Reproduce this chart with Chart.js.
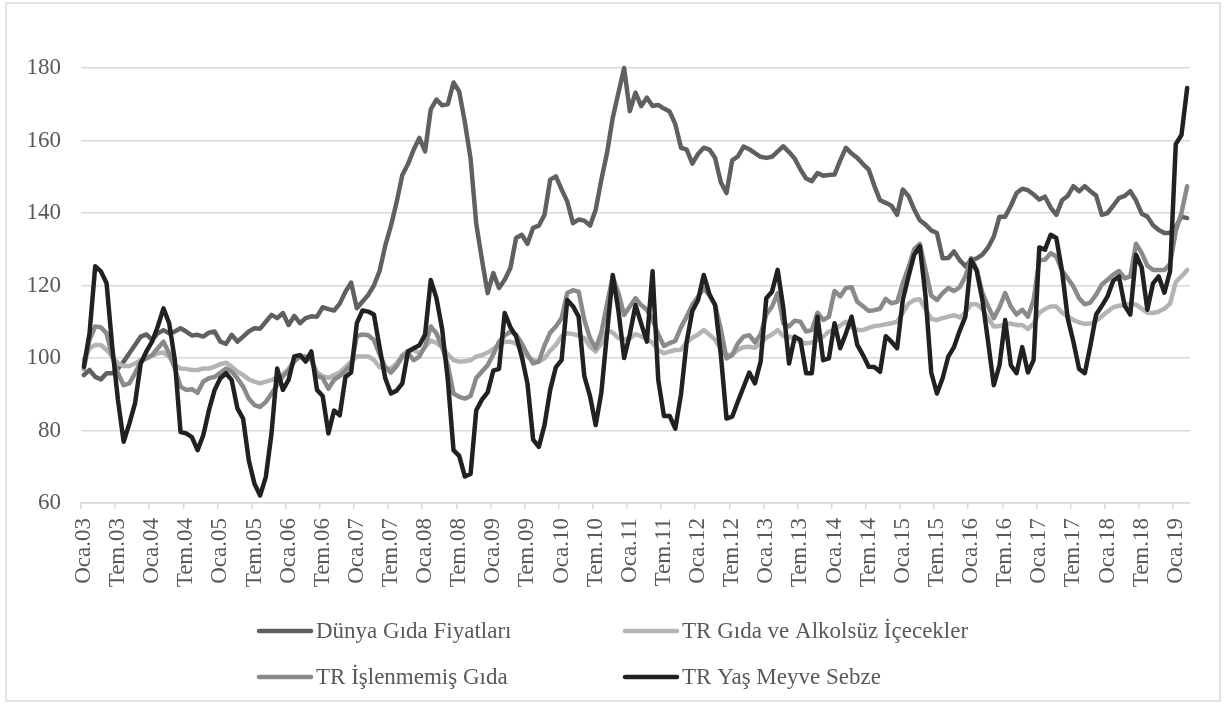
<!DOCTYPE html>
<html>
<head>
<meta charset="utf-8">
<title>Gıda Fiyatları</title>
<script src="https://cdn.jsdelivr.net/npm/chart.js"></script>
<style>
  html, body { margin: 0; padding: 0; background: #fff; }
  #wrap { width: 1229px; height: 704px; }
</style>
</head>
<body>
<div id="wrap"><canvas id="chart" width="1229" height="704"></canvas></div>
<script>
// monthly, Oca.03 .. Mar.19 (195 points)
const MONTHS = ['Oca', 'Şub', 'Mar', 'Nis', 'May', 'Haz', 'Tem', 'Ağu', 'Eyl', 'Eki', 'Kas', 'Ara'];
const FIRST_YEAR = 2003;
const N_MONTHS = 195;

const dunya = [
  95.3, 96.7, 94.8, 94.1, 95.8, 95.8, 97.1, 99.0, 101.3, 103.6, 105.9, 106.5, 105, 106.8, 107.7, 106.8, 107.3, 108.2, 107.3, 106.2,
  106.4, 105.9, 107, 107.3, 104.5, 103.9, 106.4, 104.5, 105.9, 107.3, 108.2, 108.1, 110, 111.9, 111,
  112.4, 109.1, 111.6, 109.6, 111, 111.5, 111.4, 114, 113.5, 113.1, 115, 118.3, 120.8, 113.7, 115.6, 117.4, 120, 124, 131, 136.5,
  143, 150.5, 153.5, 157.5, 160.7, 157, 168.6, 171.3, 169.7, 170, 176, 173.5, 165, 155, 137,
  127.1, 117.9, 123.4, 119.3, 121.6, 124.8, 133.1, 134, 131.5, 135.9, 136.5, 139.5, 149.2, 150.1, 146.5, 143.2, 137.2, 138.2, 137.9, 136.5,
  140.9, 149.2, 156.6, 166.3, 173.2, 180, 168.1, 173.2, 169.5, 171.8, 169.5, 169.8, 168.8,
  168, 164.5, 158, 157.5, 153.6, 156.3, 158, 157.5, 155.2, 148.5, 145.5, 154.5, 155.6, 158.3, 157.6, 156.5, 155.5, 155.2, 155.5, 157,
  158.4, 156.8, 155, 152, 149.5, 148.8, 151, 150.3, 150.5, 150.6, 154.5, 158, 156.4, 155.2, 153.5,
  152, 147.5, 143.5, 142.8, 142, 139.5, 146.5, 144.7, 141, 138, 136.8, 135.2, 134.5, 127.5, 127.6, 129.4, 127, 125.3, 127, 127.5,
  128.5, 130.5, 133.5, 139, 139, 142, 145.5, 146.7, 146.3, 145.1, 143.7, 144.5, 141.5, 139.5,
  143.5, 144.7, 147.4, 146, 147.4, 146, 144.8, 139.5, 140, 142, 144.1, 144.7, 146, 143.5, 139.8, 139, 136.6, 135.3, 134.5, 134.5,
  136.2, 139, 138.6
];

const trGidaAlkolsuz = [
  99.4, 102.7, 103.6, 103.6, 102.2, 100.4, 98.5, 97.8, 97.8, 98.5, 99.4, 99.9, 100.6, 101.3, 101.5, 100.4, 98.1, 97.1, 97.0, 96.7,
  96.7, 97.1, 97.1, 97.6, 98.3, 98.7, 97.6, 96.2, 95.3, 94.1, 93.5, 93.0, 93.5, 93.9, 94.8,
  95.5, 97, 99.5, 100.4, 100, 99.5, 96, 95, 94.5, 95.3, 96, 97.5, 99, 100.4, 100.4, 100.4, 99.5, 97.5, 97.1, 97.1,
  98.5, 100.8, 102, 102.2, 101.3, 103, 104.8, 104.2, 103, 101, 99.4, 99, 99.1,
  99.4, 100.4, 100.8, 101.5, 102.5, 103.6, 104.5, 104.5, 104, 102.5, 100.4, 99.4, 99, 99.9, 102, 103.6, 106, 106.8, 106.6, 106.2,
  105.5, 103.1, 101.8, 104, 107.7, 107, 105.5, 105.2, 105.4, 106.6, 106, 105.2, 104.2, 102.2, 101.3, 101.8, 102.2,
  102.3, 104.3, 105.6, 106.5, 107.7, 106.4, 105, 102.5, 100.8, 101, 102.2, 103, 103.1, 102.8, 104.2, 105.6, 106.5, 107.7, 106, 105.9,
  105.2, 104.5, 104, 104.3, 105, 105.9, 107.3, 107.8, 109, 110, 108.5, 107.7, 107.7, 108.3, 108.8, 109,
  109.3, 109.6, 110, 112.5, 115, 116, 116.2, 113.5, 110.8, 110.5, 111, 111.4, 111.8, 111.2, 112.5, 114.8, 114.8, 113.5, 111, 108.7,
  108.8, 109.3, 109.5, 109.1, 109.1, 108, 109.5, 112.5, 113.5, 114.2, 114.2,
  112.5, 111.5, 110.5, 109.8, 109.4, 109.5, 110.2, 111.5, 112.8, 114, 114.4, 114.6, 115, 114.7, 113.6, 112.5, 112.4, 112.8, 113.6, 115,
  121, 122.5, 124.3
];

const trIslenmemis = [
  97, 105, 108.7, 108.5, 106.8, 100.4, 95.8, 92.5, 93, 95.8, 99, 99.9, 100.8, 102.7, 104.5, 101.3, 97.1, 92.1, 91.2, 91.4,
  90.4, 93.5, 94.4, 94.8, 95.9, 97.1, 96.2, 94.4, 92.1, 88.8, 87, 86.5, 87.9, 90.2, 92.5,
  95, 96.5, 99, 100.4, 100.4, 99.5, 95, 94.5, 91.5, 94, 95, 96.5, 98, 106, 106.5, 106.3, 105, 101, 97.5, 96,
  97.8, 100.4, 101.3, 99.4, 100.4, 103.3, 108.7, 106.8, 103, 98, 90.2, 89.3, 88.8,
  89.5, 94.5, 96.3, 98, 101, 104.5, 106.2, 107.3, 106.5, 104, 101, 98.5, 99, 103.5, 107, 108.7, 111, 117.9, 118.7, 118.3,
  110.5, 105.5, 102.7, 107, 115, 122.5, 117.9, 111.9, 114.2, 116.5, 114.6, 113.3, 110.5, 106.5, 103.3,
  104.1, 104.7, 108.5, 111.4, 114.8, 116.9, 119.2, 117.3, 114.6, 108, 99.9, 100.8, 104, 105.9, 106.3, 104.3, 106.5, 112, 114.2, 117.9,
  109.5, 108.7, 110.3, 110, 107.3, 107.7, 112.5, 110.5, 111.4, 118.5, 117, 119.3, 119.5, 115.5, 114.3,
  113, 113.2, 113.6, 116.3, 115.1, 115.5, 120.6, 125, 130, 131.5, 124.3, 117.2, 116, 117.9, 119.3, 118.5, 119.5, 122.5, 127.6, 124.5,
  118, 114.2, 111, 114, 117.9, 114.2, 112, 113.3, 111.4, 116, 127, 127.1, 128.9, 128,
  124, 122, 119.7, 116.5, 114.8, 115.3, 117.5, 120.3, 121.6, 123, 124, 122, 122.5, 131.5, 129, 125.5, 124.3, 124.3, 124.3, 126,
  135, 140, 147.4
];

const trYasMeyveSebze = [
  97.6, 106.8, 125.3, 123.9, 120.6, 103, 88.4, 76.9, 81.9, 87.5, 98.5, 101.8, 104.5, 108.7, 113.7, 109.6, 99.4, 79.6, 79.2, 78.2,
  74.6, 78.7, 85.6, 91.2, 94.4, 95.8, 93.9, 86.1, 83.3, 71.8, 65.3, 62.1, 67.2, 79.2, 97.1,
  91.2, 94, 100.4, 100.8, 99, 101.8, 91.2, 89.5, 79.2, 85.5, 84.2, 94.8, 96, 109.6, 113.1, 112.8, 112, 103, 94.4, 90.2,
  91, 93, 101.8, 102.7, 103.5, 106.5, 121.5, 116.5, 108, 94, 74.6, 73, 67.3,
  68, 85.6, 88.5, 90.5, 96.5, 97, 112.4, 108.5, 106, 100.4, 93, 77.5, 75.5, 81.5, 91.2, 97.5, 99.4, 116, 114.3, 111.4,
  95, 89.5, 81.5, 90.5, 107, 122.9, 113, 100, 106.5, 114.6, 109.5, 104.5, 123.9, 94, 84,
  84, 80.5, 90, 104.5, 113, 116, 122.9, 117.6, 114.6, 101, 83.3, 83.8, 88, 92, 96, 93, 99, 116.5, 118.3, 124.3,
  113.7, 98.5, 105.9, 105, 95.8, 95.8, 111.4, 99.4, 99.9, 109.6, 102.7, 106.8, 111.4, 103.6, 100.8,
  97.6, 97.5, 96.2, 106, 104.5, 102.7, 116, 122.5, 128.5, 130.8, 117, 96, 90.2, 94.4, 100.4, 103, 107.5, 111.4, 127.1, 124,
  116, 104.5, 92.5, 98, 110.5, 98, 95.8, 103, 96, 99.4, 130.5, 129.9, 134, 133.1,
  124, 111, 104.5, 97, 95.8, 103.5, 112, 114.4, 117, 121.3, 122.5, 114.5, 112, 128.5, 125, 113.3, 120.6, 122.5, 118, 124,
  159, 161.5, 174.5
];

const seriesNames = ['Dünya Gıda Fiyatları', 'TR Gıda ve Alkolsüz İçecekler', 'TR İşlenmemiş Gıda', 'TR Yaş Meyve Sebze'];
const seriesColors = ['#606060', '#b4b4b4', '#8a8a8a', '#212121'];

const Y_MIN = 60, Y_MAX = 180, Y_STEP = 20;
const FONT_FAMILY = "'Liberation Serif', 'Times New Roman', serif";
const TEXT_COLOR = '#595959';
const GRID_COLOR = '#d9d9d9';

const labels = [];
for (let i = 0; i < N_MONTHS; i++) {
  const yy = String(FIRST_YEAR + Math.floor(i / 12)).slice(2);
  labels.push(MONTHS[i % 12] + '.' + yy);
}

// 2x2 legend under the axis, like the original
const legendGrid = {
  id: 'legendGrid',
  afterDraw(chart) {
    const ctx = chart.ctx;
    const colX = [257, 623];
    const rowY = [631, 677];
    ctx.save();
    chart.data.datasets.forEach((ds, i) => {
      const x = colX[i % 2], y = rowY[Math.floor(i / 2)];
      ctx.strokeStyle = ds.borderColor;
      ctx.lineWidth = 4.5;
      ctx.lineCap = 'round';
      ctx.beginPath();
      ctx.moveTo(x + 2, y);
      ctx.lineTo(x + 54, y);
      ctx.stroke();
      ctx.fillStyle = TEXT_COLOR;
      ctx.font = '23px ' + FONT_FAMILY;
      ctx.textBaseline = 'middle';
      ctx.fillText(ds.label, x + 59, y + 1);
    });
    ctx.restore();
  }
};

const frame = {
  id: 'frame',
  beforeDraw(chart) {
    const ctx = chart.ctx;
    ctx.save();
    ctx.fillStyle = '#fff';
    ctx.fillRect(0, 0, chart.width, chart.height);
    ctx.strokeStyle = GRID_COLOR;
    ctx.lineWidth = 1.5;
    ctx.strokeRect(6, 3, 1214, 698);
    ctx.restore();
  }
};

const series = [dunya, trGidaAlkolsuz, trIslenmemis, trYasMeyveSebze];

new Chart(document.getElementById('chart'), {
  type: 'line',
  data: {
    labels: labels,
    datasets: series.map((d, i) => ({
      label: seriesNames[i],
      data: d,
      borderColor: seriesColors[i],
      backgroundColor: seriesColors[i],
      borderWidth: 4.5,
      pointRadius: 0,
      tension: 0,
      borderJoinStyle: 'round',
      borderCapStyle: 'round',
      clip: false,
      order: 3 - i
    }))
  },
  options: {
    responsive: false,
    animation: false,
    layout: { padding: { left: 0, top: 68, right: 39, bottom: 0 } },
    plugins: {
      legend: { display: false },
      tooltip: { enabled: false }
    },
    scales: {
      x: {
        offset: true,
        afterFit: (s) => { s.height = 201; },
        grid: {
          offset: true,
          drawOnChartArea: false,
          drawTicks: true,
          tickLength: 6,
          lineWidth: 1.5,
          color: (c) => (c.index !== undefined && c.index % 6 === 0 ? GRID_COLOR : 'rgba(0,0,0,0)')
        },
        border: { display: true, color: GRID_COLOR, width: 1.5 },
        ticks: {
          autoSkip: false,
          minRotation: 90,
          maxRotation: 90,
          padding: 9,
          color: TEXT_COLOR,
          font: { family: FONT_FAMILY, size: 23 },
          callback: (v, i) => (i % 6 === 0 ? labels[i] : '')
        }
      },
      y: {
        min: Y_MIN,
        max: Y_MAX,
        afterFit: (s) => { s.width = 81; },
        grid: { color: GRID_COLOR, lineWidth: 1.5, drawTicks: false },
        border: { display: false },
        ticks: {
          stepSize: Y_STEP,
          padding: 20,
          color: TEXT_COLOR,
          font: { family: FONT_FAMILY, size: 23 }
        }
      }
    }
  },
  plugins: [frame, legendGrid]
});
</script>
</body>
</html>
